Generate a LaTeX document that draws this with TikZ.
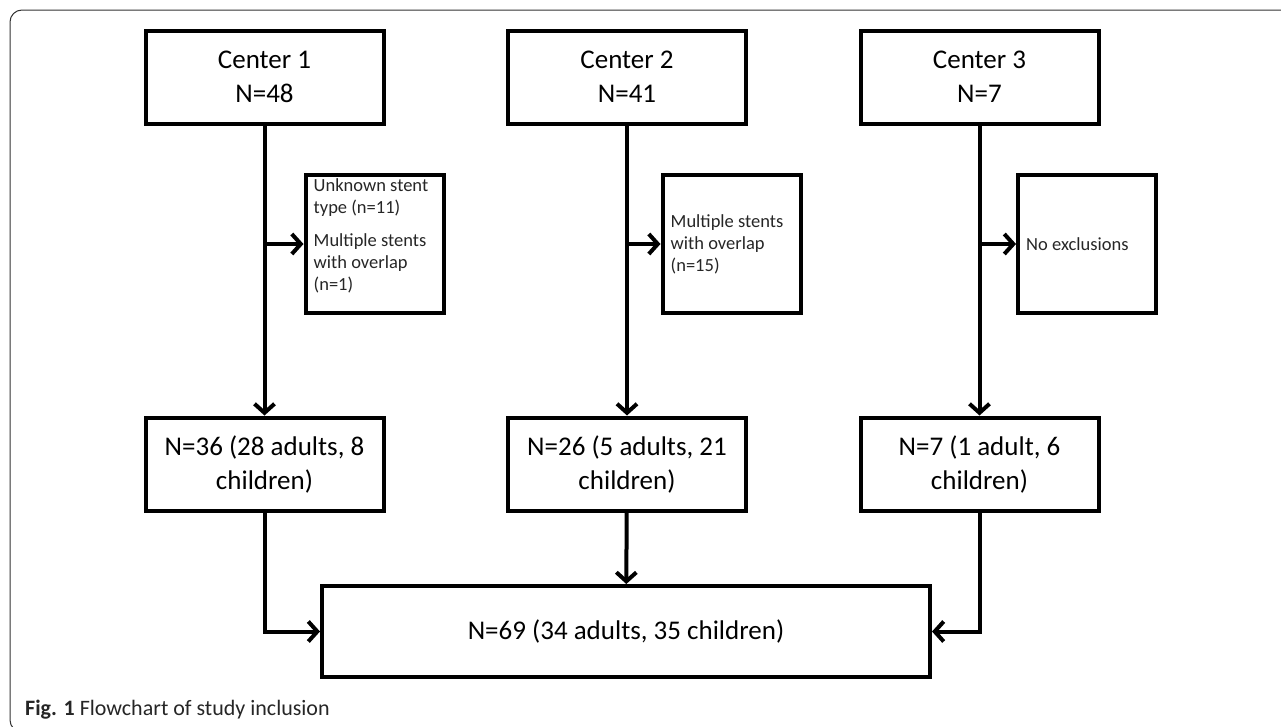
\documentclass[tikz,border=0pt]{standalone}
\usepackage{fontspec}
\setmainfont{Carlito}
\usetikzlibrary{positioning,arrows.meta}

\begin{document}
\begin{tikzpicture}[
  x=1pt, y=-1pt,
  box/.style={draw, line width=4pt, minimum width=238pt, minimum height=93pt, inner sep=0pt, align=center, font=\fontsize{27}{34}\selectfont},
  exbox/.style={draw, line width=4pt, minimum width=138pt, minimum height=138pt},
  extext/.style={inner sep=0pt, align=left, text=black!85, font=\fontsize{18.5}{22}\selectfont},
  arr/.style={line width=4pt, -{Straight Barb[length=9pt,width=20pt]}},
  node distance=290pt
]
\useasboundingbox (0,0) rectangle (1281,726);
\clip (0,0) rectangle (1281,726);
\draw[line width=1pt, black!80, rounded corners=12pt] (1300,10) -- (10,10) -- (10,732) -- (1300,732);

\node[box] (c1) at (264.5,77) {Center 1\\N=48};
\node[box] (c2) at (627,77) {Center 2\\N=41};
\node[box] (c3) at (979.5,77) {Center 3\\N=7};

\node[box] (m1) at (264.5,464) {N=36 (28 adults, 8\\children)};
\node[box] (m2) at (627,464) {N=26 (5 adults, 21\\children)};
\node[box] (m3) at (979.5,464) {N=7 (1 adult, 6\\children)};

\node[box, minimum width=608pt, minimum height=91pt] (tot) at (626,631.5) {N=69 (34 adults, 35 children)};

\node[exbox] (e1) at (374.5,244) {};
\node[exbox] (e2) at (731.5,244) {};
\node[exbox] (e3) at (1087,244) {};

\node[extext, anchor=north west] (t1) at ([xshift=10pt,yshift=-5pt]e1.north west) {Unknown stent\\type (n=11)\\[11pt]Multiple stents\\with overlap\\(n=1)};
\node[extext, anchor=west] (t2) at ([xshift=10pt]e2.west) {Multiple stents\\with overlap\\(n=15)};
\node[extext, anchor=west] (t3) at ([xshift=10pt]e3.west) {No exclusions};

\draw[arr] (c1) -- (m1);
\draw[arr] (c2) -- (m2);
\draw[arr] (c3) -- (m3);

\draw[arr] (c1 |- e1) -- (e1);
\draw[arr] (c2 |- e2) -- (e2);
\draw[arr] (c3 |- e3) -- (e3);

\draw[arr] (m1) |- (tot);
\draw[arr] (m2) -- (tot);
\draw[arr] (m3) |- (tot);

\node[anchor=base west, inner sep=0pt, text=black!85, font=\fontsize{22}{26}\selectfont] (cap) at (25,715) {\textbf{Fig. 1} Flowchart of study inclusion};
\end{tikzpicture}
\end{document}
